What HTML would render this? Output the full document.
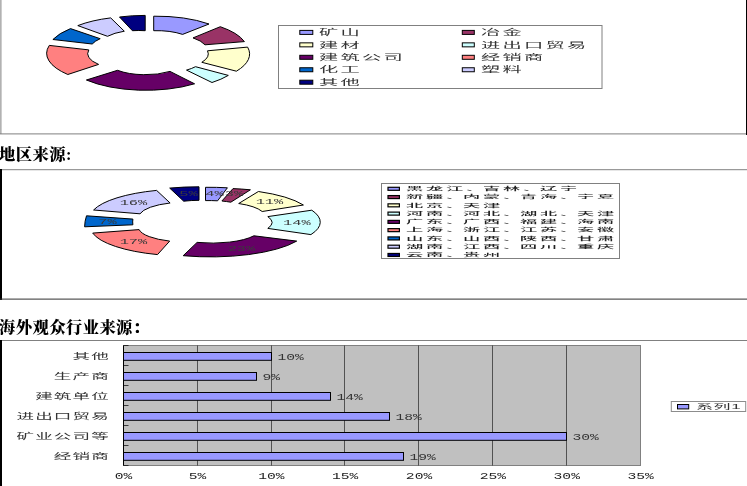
<!DOCTYPE html>
<html><head><meta charset="utf-8"><title>chart</title>
<style>html,body{margin:0;padding:0;background:#fff;overflow:hidden}svg{display:block}</style></head>
<body><svg width="747" height="486" viewBox="0 0 747 486">
<rect width="747" height="486" fill="#fff"/>
<rect x="0.4" y="0" width="1" height="134" fill="#808080"/>
<rect x="0" y="133.4" width="747" height="1" fill="#808080"/>
<rect x="746" y="0" width="1" height="135" fill="#000"/>
<rect x="0" y="169.2" width="747" height="1" fill="#808080"/>
<rect x="0" y="169" width="2" height="131" fill="#000"/>
<rect x="0" y="298.6" width="747" height="1" fill="#303030"/>
<rect x="0" y="340" width="747" height="1" fill="#808080"/>
<rect x="0" y="340" width="2" height="146" fill="#000"/>
<path d="M153.7,16.2 A80,31.2 0 0 1 209,24 L182.6,34.4 A40.0,15.6 0 0 0 153.7,30.7 Z" fill="#9999FF" stroke="#000" stroke-width="1" stroke-linejoin="round"/>
<path d="M220.3,26.7 A80,31.2 0 0 1 244.4,41.6 L205,44.8 A40.0,15.6 0 0 0 193,37.9 Z" fill="#993366" stroke="#000" stroke-width="1" stroke-linejoin="round"/>
<path d="M247.6,47.1 A80,31.2 0 0 1 236.4,71.2 L201.8,62.3 A40.0,15.6 0 0 0 207.5,50.8 Z" fill="#FFFFCC" stroke="#000" stroke-width="1" stroke-linejoin="round"/>
<path d="M228.3,75.4 A80,31.2 0 0 1 212,82.5 L186.5,70.1 A40.0,15.6 0 0 0 195.5,66.7 Z" fill="#CCFFFF" stroke="#000" stroke-width="1" stroke-linejoin="round"/>
<path d="M194.6,83.8 A80,31.2 0 0 1 86.4,80 L117.5,70.3 A40.0,15.6 0 0 0 170,71.4 Z" fill="#660066" stroke="#000" stroke-width="1" stroke-linejoin="round"/>
<path d="M67.8,74.5 A80,31.2 0 0 1 49.3,45.4 L88.8,49.9 A40.0,15.6 0 0 0 98.6,64.4 Z" fill="#FF8080" stroke="#000" stroke-width="1" stroke-linejoin="round"/>
<path d="M52.9,39.5 A80,31.2 0 0 1 70.5,28.6 L100.2,38.7 A40.0,15.6 0 0 0 92.2,44 Z" fill="#0066CC" stroke="#000" stroke-width="1" stroke-linejoin="round"/>
<path d="M77.8,25.6 A80,31.2 0 0 1 110.7,17.9 L124.3,31.2 A40.0,15.6 0 0 0 107.5,36.3 Z" fill="#CCCCFF" stroke="#000" stroke-width="1" stroke-linejoin="round"/>
<path d="M119.5,17 A80,31.2 0 0 1 145.2,15.4 L145.2,30.7 A40.0,15.6 0 0 0 132.4,30.7 Z" fill="#000080" stroke="#000" stroke-width="1" stroke-linejoin="round"/>
<rect x="278.5" y="25.5" width="323.5" height="63" fill="#fff" stroke="#808080" stroke-width="1"/>
<rect x="299.8" y="30.4" width="13" height="4" fill="#9999FF" stroke="#000" stroke-width="1"/>
<text transform="translate(318.9,35.1) scale(2.5,1)" font-size="7.7" letter-spacing="0.9" text-anchor="start" fill="#333" font-family='"Liberation Sans","Noto Sans CJK SC",sans-serif' font-weight="400">矿山</text>
<rect x="299.8" y="42.849999999999994" width="13" height="4" fill="#FFFFCC" stroke="#000" stroke-width="1"/>
<text transform="translate(318.9,47.55) scale(2.5,1)" font-size="7.7" letter-spacing="0.9" text-anchor="start" fill="#333" font-family='"Liberation Sans","Noto Sans CJK SC",sans-serif' font-weight="400">建材</text>
<rect x="299.8" y="55.3" width="13" height="4" fill="#660066" stroke="#000" stroke-width="1"/>
<text transform="translate(318.9,60.0) scale(2.5,1)" font-size="7.7" letter-spacing="0.9" text-anchor="start" fill="#333" font-family='"Liberation Sans","Noto Sans CJK SC",sans-serif' font-weight="400">建筑公司</text>
<rect x="299.8" y="67.75" width="13" height="4" fill="#0066CC" stroke="#000" stroke-width="1"/>
<text transform="translate(318.9,72.45) scale(2.5,1)" font-size="7.7" letter-spacing="0.9" text-anchor="start" fill="#333" font-family='"Liberation Sans","Noto Sans CJK SC",sans-serif' font-weight="400">化工</text>
<rect x="299.8" y="80.19999999999999" width="13" height="4" fill="#000080" stroke="#000" stroke-width="1"/>
<text transform="translate(318.9,84.89999999999999) scale(2.5,1)" font-size="7.7" letter-spacing="0.9" text-anchor="start" fill="#333" font-family='"Liberation Sans","Noto Sans CJK SC",sans-serif' font-weight="400">其他</text>
<rect x="462.3" y="30.4" width="12" height="4" fill="#993366" stroke="#000" stroke-width="1"/>
<text transform="translate(481,35.1) scale(2.5,1)" font-size="7.7" letter-spacing="0.9" text-anchor="start" fill="#333" font-family='"Liberation Sans","Noto Sans CJK SC",sans-serif' font-weight="400">冶金</text>
<rect x="462.3" y="42.849999999999994" width="12" height="4" fill="#CCFFFF" stroke="#000" stroke-width="1"/>
<text transform="translate(481,47.55) scale(2.5,1)" font-size="7.7" letter-spacing="0.9" text-anchor="start" fill="#333" font-family='"Liberation Sans","Noto Sans CJK SC",sans-serif' font-weight="400">进出口贸易</text>
<rect x="462.3" y="55.3" width="12" height="4" fill="#FF8080" stroke="#000" stroke-width="1"/>
<text transform="translate(481,60.0) scale(2.5,1)" font-size="7.7" letter-spacing="0.9" text-anchor="start" fill="#333" font-family='"Liberation Sans","Noto Sans CJK SC",sans-serif' font-weight="400">经销商</text>
<rect x="462.3" y="67.75" width="12" height="4" fill="#CCCCFF" stroke="#000" stroke-width="1"/>
<text transform="translate(481,72.45) scale(2.5,1)" font-size="7.7" letter-spacing="0.9" text-anchor="start" fill="#333" font-family='"Liberation Sans","Noto Sans CJK SC",sans-serif' font-weight="400">塑料</text>
<path d="M205.5,187.3 A96.7,29.1 0 0 1 227.4,187.8 L217.6,200.8 A48.35,14.55 0 0 0 205.5,200.6 Z" fill="#9999FF" stroke="#000" stroke-width="1" stroke-linejoin="round"/>
<path d="M233,188.6 A96.7,29.1 0 0 1 250.4,189.8 L230.8,202.2 A48.35,14.55 0 0 0 221.9,201 Z" fill="#993366" stroke="#000" stroke-width="1" stroke-linejoin="round"/>
<path d="M258.4,191.5 A96.7,29.1 0 0 1 303.4,205 L262.2,211.5 A48.35,14.55 0 0 0 238.7,203.5 Z" fill="#FFFFCC" stroke="#000" stroke-width="1" stroke-linejoin="round"/>
<path d="M311.8,210.2 A96.7,29.1 0 0 1 310.9,234.6 L267.8,228.4 A48.35,14.55 0 0 0 267.8,216.6 Z" fill="#CCFFFF" stroke="#000" stroke-width="1" stroke-linejoin="round"/>
<path d="M296.7,241.1 A96.7,29.1 0 0 1 183.2,255.7 L197.1,242.4 A48.35,14.55 0 0 0 253.9,235.8 Z" fill="#660066" stroke="#000" stroke-width="1" stroke-linejoin="round"/>
<path d="M157.5,254.6 A96.7,29.1 0 0 1 92.7,233.1 L139.1,229.6 A48.35,14.55 0 0 0 169.7,241.1 Z" fill="#FF8080" stroke="#000" stroke-width="1" stroke-linejoin="round"/>
<path d="M84.6,226.8 A386.8,116.4 0 0 1 86.5,215.8 L132.9,219.1 A193.4,58.2 0 0 0 132.9,224.8 Z" fill="#0066CC" stroke="#000" stroke-width="1" stroke-linejoin="round"/>
<path d="M93.6,210 A96.7,29.1 0 0 1 156.6,190.4 L170.1,203 A48.35,14.55 0 0 0 140,213.8 Z" fill="#CCCCFF" stroke="#000" stroke-width="1" stroke-linejoin="round"/>
<path d="M169.7,188.1 A96.7,29.1 0 0 1 199,186.8 L199,200.3 A48.35,14.55 0 0 0 183.7,201.2 Z" fill="#000080" stroke="#000" stroke-width="1" stroke-linejoin="round"/>
<text transform="translate(133.5,204.9) scale(2.45,1)" font-size="6.3" letter-spacing="0" text-anchor="middle" fill="#3a3a3a" font-family='"Liberation Mono","Noto Sans CJK SC",monospace' font-weight="normal">16%</text>
<text transform="translate(107.6,224.0) scale(2.45,1)" font-size="6.3" letter-spacing="0" text-anchor="middle" fill="#3a3a3a" font-family='"Liberation Mono","Noto Sans CJK SC",monospace' font-weight="normal">7%</text>
<text transform="translate(133.5,243.6) scale(2.45,1)" font-size="6.3" letter-spacing="0" text-anchor="middle" fill="#3a3a3a" font-family='"Liberation Mono","Noto Sans CJK SC",monospace' font-weight="normal">17%</text>
<text transform="translate(241.5,250.79999999999998) scale(2.45,1)" font-size="6.3" letter-spacing="0" text-anchor="middle" fill="#3a3a3a" font-family='"Liberation Mono","Noto Sans CJK SC",monospace' font-weight="normal">23%</text>
<text transform="translate(296.8,224.9) scale(2.45,1)" font-size="6.3" letter-spacing="0" text-anchor="middle" fill="#3a3a3a" font-family='"Liberation Mono","Noto Sans CJK SC",monospace' font-weight="normal">14%</text>
<text transform="translate(269.5,204.29999999999998) scale(2.45,1)" font-size="6.3" letter-spacing="0" text-anchor="middle" fill="#3a3a3a" font-family='"Liberation Mono","Noto Sans CJK SC",monospace' font-weight="normal">11%</text>
<text transform="translate(214.4,195.79999999999998) scale(2.45,1)" font-size="6.3" letter-spacing="0" text-anchor="middle" fill="#3a3a3a" font-family='"Liberation Mono","Noto Sans CJK SC",monospace' font-weight="normal">4%</text>
<text transform="translate(234,196.0) scale(2.45,1)" font-size="6.3" letter-spacing="0" text-anchor="middle" fill="#3a3a3a" font-family='"Liberation Mono","Noto Sans CJK SC",monospace' font-weight="normal">3%</text>
<text transform="translate(188.5,195.5) scale(2.45,1)" font-size="6.3" letter-spacing="0" text-anchor="middle" fill="#3a3a3a" font-family='"Liberation Mono","Noto Sans CJK SC",monospace' font-weight="normal">5%</text>
<rect x="381.5" y="183.5" width="238" height="75" fill="#fff" stroke="#808080" stroke-width="1"/>
<clipPath id="c2"><rect x="382" y="184" width="237" height="74"/></clipPath><g clip-path="url(#c2)">
<rect x="388" y="187.3" width="11.4" height="3" fill="#9999FF" stroke="#000" stroke-width="1.2"/>
<text transform="translate(406,190.10000000000002) scale(3.75,1)" font-size="4.6" letter-spacing="0.73" text-anchor="start" fill="#222" font-family='"Liberation Sans","Noto Sans CJK SC",sans-serif' font-weight="500">黑龙江、</text>
<text transform="translate(483,190.10000000000002) scale(3.75,1)" font-size="4.6" letter-spacing="0.73" text-anchor="start" fill="#222" font-family='"Liberation Sans","Noto Sans CJK SC",sans-serif' font-weight="500">吉林、</text>
<text transform="translate(540,190.10000000000002) scale(3.75,1)" font-size="4.6" letter-spacing="0.73" text-anchor="start" fill="#222" font-family='"Liberation Sans","Noto Sans CJK SC",sans-serif' font-weight="500">辽宁</text>
<rect x="388" y="195.57000000000002" width="11.4" height="3" fill="#993366" stroke="#000" stroke-width="1.2"/>
<text transform="translate(406,198.37000000000003) scale(3.75,1)" font-size="4.6" letter-spacing="0.73" text-anchor="start" fill="#222" font-family='"Liberation Sans","Noto Sans CJK SC",sans-serif' font-weight="500">新疆、</text>
<text transform="translate(463,198.37000000000003) scale(3.75,1)" font-size="4.6" letter-spacing="0.73" text-anchor="start" fill="#222" font-family='"Liberation Sans","Noto Sans CJK SC",sans-serif' font-weight="500">内蒙、</text>
<text transform="translate(520,198.37000000000003) scale(3.75,1)" font-size="4.6" letter-spacing="0.73" text-anchor="start" fill="#222" font-family='"Liberation Sans","Noto Sans CJK SC",sans-serif' font-weight="500">青海、</text>
<text transform="translate(577,198.37000000000003) scale(3.75,1)" font-size="4.6" letter-spacing="0.73" text-anchor="start" fill="#222" font-family='"Liberation Sans","Noto Sans CJK SC",sans-serif' font-weight="500">宁夏</text>
<rect x="388" y="203.84" width="11.4" height="3" fill="#FFFFCC" stroke="#000" stroke-width="1.2"/>
<text transform="translate(406,206.64000000000001) scale(3.75,1)" font-size="4.6" letter-spacing="0.73" text-anchor="start" fill="#222" font-family='"Liberation Sans","Noto Sans CJK SC",sans-serif' font-weight="500">北京、</text>
<text transform="translate(463,206.64000000000001) scale(3.75,1)" font-size="4.6" letter-spacing="0.73" text-anchor="start" fill="#222" font-family='"Liberation Sans","Noto Sans CJK SC",sans-serif' font-weight="500">天津</text>
<rect x="388" y="212.11" width="11.4" height="3" fill="#CCFFFF" stroke="#000" stroke-width="1.2"/>
<text transform="translate(406,214.91000000000003) scale(3.75,1)" font-size="4.6" letter-spacing="0.73" text-anchor="start" fill="#222" font-family='"Liberation Sans","Noto Sans CJK SC",sans-serif' font-weight="500">河南、</text>
<text transform="translate(463,214.91000000000003) scale(3.75,1)" font-size="4.6" letter-spacing="0.73" text-anchor="start" fill="#222" font-family='"Liberation Sans","Noto Sans CJK SC",sans-serif' font-weight="500">河北、</text>
<text transform="translate(520,214.91000000000003) scale(3.75,1)" font-size="4.6" letter-spacing="0.73" text-anchor="start" fill="#222" font-family='"Liberation Sans","Noto Sans CJK SC",sans-serif' font-weight="500">湖北、</text>
<text transform="translate(577,214.91000000000003) scale(3.75,1)" font-size="4.6" letter-spacing="0.73" text-anchor="start" fill="#222" font-family='"Liberation Sans","Noto Sans CJK SC",sans-serif' font-weight="500">天津</text>
<rect x="388" y="220.38" width="11.4" height="3" fill="#660066" stroke="#000" stroke-width="1.2"/>
<text transform="translate(406,223.18) scale(3.75,1)" font-size="4.6" letter-spacing="0.73" text-anchor="start" fill="#222" font-family='"Liberation Sans","Noto Sans CJK SC",sans-serif' font-weight="500">广东、</text>
<text transform="translate(463,223.18) scale(3.75,1)" font-size="4.6" letter-spacing="0.73" text-anchor="start" fill="#222" font-family='"Liberation Sans","Noto Sans CJK SC",sans-serif' font-weight="500">广西、</text>
<text transform="translate(520,223.18) scale(3.75,1)" font-size="4.6" letter-spacing="0.73" text-anchor="start" fill="#222" font-family='"Liberation Sans","Noto Sans CJK SC",sans-serif' font-weight="500">福建、</text>
<text transform="translate(577,223.18) scale(3.75,1)" font-size="4.6" letter-spacing="0.73" text-anchor="start" fill="#222" font-family='"Liberation Sans","Noto Sans CJK SC",sans-serif' font-weight="500">海南</text>
<rect x="388" y="228.65" width="11.4" height="3" fill="#FF8080" stroke="#000" stroke-width="1.2"/>
<text transform="translate(406,231.45000000000002) scale(3.75,1)" font-size="4.6" letter-spacing="0.73" text-anchor="start" fill="#222" font-family='"Liberation Sans","Noto Sans CJK SC",sans-serif' font-weight="500">上海、</text>
<text transform="translate(463,231.45000000000002) scale(3.75,1)" font-size="4.6" letter-spacing="0.73" text-anchor="start" fill="#222" font-family='"Liberation Sans","Noto Sans CJK SC",sans-serif' font-weight="500">浙江、</text>
<text transform="translate(520,231.45000000000002) scale(3.75,1)" font-size="4.6" letter-spacing="0.73" text-anchor="start" fill="#222" font-family='"Liberation Sans","Noto Sans CJK SC",sans-serif' font-weight="500">江苏、</text>
<text transform="translate(577,231.45000000000002) scale(3.75,1)" font-size="4.6" letter-spacing="0.73" text-anchor="start" fill="#222" font-family='"Liberation Sans","Noto Sans CJK SC",sans-serif' font-weight="500">安徽</text>
<rect x="388" y="236.92000000000002" width="11.4" height="3" fill="#0066CC" stroke="#000" stroke-width="1.2"/>
<text transform="translate(406,239.72000000000003) scale(3.75,1)" font-size="4.6" letter-spacing="0.73" text-anchor="start" fill="#222" font-family='"Liberation Sans","Noto Sans CJK SC",sans-serif' font-weight="500">山东、</text>
<text transform="translate(463,239.72000000000003) scale(3.75,1)" font-size="4.6" letter-spacing="0.73" text-anchor="start" fill="#222" font-family='"Liberation Sans","Noto Sans CJK SC",sans-serif' font-weight="500">山西、</text>
<text transform="translate(520,239.72000000000003) scale(3.75,1)" font-size="4.6" letter-spacing="0.73" text-anchor="start" fill="#222" font-family='"Liberation Sans","Noto Sans CJK SC",sans-serif' font-weight="500">陕西、</text>
<text transform="translate(577,239.72000000000003) scale(3.75,1)" font-size="4.6" letter-spacing="0.73" text-anchor="start" fill="#222" font-family='"Liberation Sans","Noto Sans CJK SC",sans-serif' font-weight="500">甘肃</text>
<rect x="388" y="245.19" width="11.4" height="3" fill="#CCCCFF" stroke="#000" stroke-width="1.2"/>
<text transform="translate(406,247.99) scale(3.75,1)" font-size="4.6" letter-spacing="0.73" text-anchor="start" fill="#222" font-family='"Liberation Sans","Noto Sans CJK SC",sans-serif' font-weight="500">湖南、</text>
<text transform="translate(463,247.99) scale(3.75,1)" font-size="4.6" letter-spacing="0.73" text-anchor="start" fill="#222" font-family='"Liberation Sans","Noto Sans CJK SC",sans-serif' font-weight="500">江西、</text>
<text transform="translate(520,247.99) scale(3.75,1)" font-size="4.6" letter-spacing="0.73" text-anchor="start" fill="#222" font-family='"Liberation Sans","Noto Sans CJK SC",sans-serif' font-weight="500">四川、</text>
<text transform="translate(577,247.99) scale(3.75,1)" font-size="4.6" letter-spacing="0.73" text-anchor="start" fill="#222" font-family='"Liberation Sans","Noto Sans CJK SC",sans-serif' font-weight="500">重庆</text>
<rect x="388" y="253.46" width="11.4" height="3" fill="#000080" stroke="#000" stroke-width="1.2"/>
<text transform="translate(406,256.26) scale(3.75,1)" font-size="4.6" letter-spacing="0.73" text-anchor="start" fill="#222" font-family='"Liberation Sans","Noto Sans CJK SC",sans-serif' font-weight="500">云南、</text>
<text transform="translate(463,256.26) scale(3.75,1)" font-size="4.6" letter-spacing="0.73" text-anchor="start" fill="#222" font-family='"Liberation Sans","Noto Sans CJK SC",sans-serif' font-weight="500">贵州</text>
</g>
<rect x="123.5" y="345.5" width="517.0" height="120.0" fill="#C0C0C0" stroke="#808080" stroke-width="1"/>
<line x1="197.5" y1="345.5" x2="197.5" y2="465.5" stroke="#222" stroke-width="0.7"/>
<line x1="271.5" y1="345.5" x2="271.5" y2="465.5" stroke="#222" stroke-width="0.7"/>
<line x1="344.5" y1="345.5" x2="344.5" y2="465.5" stroke="#222" stroke-width="0.7"/>
<line x1="418.5" y1="345.5" x2="418.5" y2="465.5" stroke="#222" stroke-width="0.7"/>
<line x1="492.5" y1="345.5" x2="492.5" y2="465.5" stroke="#222" stroke-width="0.7"/>
<line x1="566.5" y1="345.5" x2="566.5" y2="465.5" stroke="#222" stroke-width="0.7"/>
<line x1="123.5" y1="345.5" x2="123.5" y2="465.5" stroke="#000" stroke-width="1"/>
<line x1="123.5" y1="345.5" x2="128.5" y2="345.5" stroke="#000" stroke-width="0.7"/>
<line x1="123.5" y1="365.5" x2="128.5" y2="365.5" stroke="#000" stroke-width="0.7"/>
<line x1="123.5" y1="385.5" x2="128.5" y2="385.5" stroke="#000" stroke-width="0.7"/>
<line x1="123.5" y1="405.5" x2="128.5" y2="405.5" stroke="#000" stroke-width="0.7"/>
<line x1="123.5" y1="425.5" x2="128.5" y2="425.5" stroke="#000" stroke-width="0.7"/>
<line x1="123.5" y1="445.5" x2="128.5" y2="445.5" stroke="#000" stroke-width="0.7"/>
<line x1="123.5" y1="465.5" x2="128.5" y2="465.5" stroke="#000" stroke-width="0.7"/>
<rect x="123.5" y="352.5" width="148.0" height="7.8" fill="#9999FF" stroke="#000" stroke-width="1"/>
<text transform="translate(109.8,359.3) scale(2.14,1)" font-size="8.2" letter-spacing="0.52" text-anchor="end" fill="#333" font-family='"Liberation Sans","Noto Sans CJK SC",sans-serif' font-weight="400">其他</text>
<text transform="translate(277.5,359.7) scale(1.63,1)" font-size="9" letter-spacing="0" text-anchor="start" fill="#333" font-family='"Liberation Mono","Noto Sans CJK SC",monospace' font-weight="normal">10%</text>
<rect x="123.5" y="372.5" width="133.0" height="7.8" fill="#9999FF" stroke="#000" stroke-width="1"/>
<text transform="translate(109.8,379.3) scale(2.14,1)" font-size="8.2" letter-spacing="0.52" text-anchor="end" fill="#333" font-family='"Liberation Sans","Noto Sans CJK SC",sans-serif' font-weight="400">生产商</text>
<text transform="translate(262.5,379.7) scale(1.63,1)" font-size="9" letter-spacing="0" text-anchor="start" fill="#333" font-family='"Liberation Mono","Noto Sans CJK SC",monospace' font-weight="normal">9%</text>
<rect x="123.5" y="392.5" width="207.0" height="7.8" fill="#9999FF" stroke="#000" stroke-width="1"/>
<text transform="translate(109.8,399.3) scale(2.14,1)" font-size="8.2" letter-spacing="0.52" text-anchor="end" fill="#333" font-family='"Liberation Sans","Noto Sans CJK SC",sans-serif' font-weight="400">建筑单位</text>
<text transform="translate(336.5,399.7) scale(1.63,1)" font-size="9" letter-spacing="0" text-anchor="start" fill="#333" font-family='"Liberation Mono","Noto Sans CJK SC",monospace' font-weight="normal">14%</text>
<rect x="123.5" y="412.5" width="266.0" height="7.8" fill="#9999FF" stroke="#000" stroke-width="1"/>
<text transform="translate(109.8,419.3) scale(2.14,1)" font-size="8.2" letter-spacing="0.52" text-anchor="end" fill="#333" font-family='"Liberation Sans","Noto Sans CJK SC",sans-serif' font-weight="400">进出口贸易</text>
<text transform="translate(395.5,419.7) scale(1.63,1)" font-size="9" letter-spacing="0" text-anchor="start" fill="#333" font-family='"Liberation Mono","Noto Sans CJK SC",monospace' font-weight="normal">18%</text>
<rect x="123.5" y="432.5" width="443.0" height="7.8" fill="#9999FF" stroke="#000" stroke-width="1"/>
<text transform="translate(109.8,439.3) scale(2.14,1)" font-size="8.2" letter-spacing="0.52" text-anchor="end" fill="#333" font-family='"Liberation Sans","Noto Sans CJK SC",sans-serif' font-weight="400">矿业公司等</text>
<text transform="translate(572.5,439.7) scale(1.63,1)" font-size="9" letter-spacing="0" text-anchor="start" fill="#333" font-family='"Liberation Mono","Noto Sans CJK SC",monospace' font-weight="normal">30%</text>
<rect x="123.5" y="452.5" width="280.0" height="7.8" fill="#9999FF" stroke="#000" stroke-width="1"/>
<text transform="translate(109.8,459.3) scale(2.14,1)" font-size="8.2" letter-spacing="0.52" text-anchor="end" fill="#333" font-family='"Liberation Sans","Noto Sans CJK SC",sans-serif' font-weight="400">经销商</text>
<text transform="translate(409.5,459.7) scale(1.63,1)" font-size="9" letter-spacing="0" text-anchor="start" fill="#333" font-family='"Liberation Mono","Noto Sans CJK SC",monospace' font-weight="normal">19%</text>
<text transform="translate(123.6,478.8) scale(1.63,1)" font-size="9" letter-spacing="0" text-anchor="middle" fill="#222" font-family='"Liberation Mono","Noto Sans CJK SC",monospace' font-weight="normal">0%</text>
<text transform="translate(197.46,478.8) scale(1.63,1)" font-size="9" letter-spacing="0" text-anchor="middle" fill="#222" font-family='"Liberation Mono","Noto Sans CJK SC",monospace' font-weight="normal">5%</text>
<text transform="translate(271.32,478.8) scale(1.63,1)" font-size="9" letter-spacing="0" text-anchor="middle" fill="#222" font-family='"Liberation Mono","Noto Sans CJK SC",monospace' font-weight="normal">10%</text>
<text transform="translate(345.18,478.8) scale(1.63,1)" font-size="9" letter-spacing="0" text-anchor="middle" fill="#222" font-family='"Liberation Mono","Noto Sans CJK SC",monospace' font-weight="normal">15%</text>
<text transform="translate(419.04,478.8) scale(1.63,1)" font-size="9" letter-spacing="0" text-anchor="middle" fill="#222" font-family='"Liberation Mono","Noto Sans CJK SC",monospace' font-weight="normal">20%</text>
<text transform="translate(492.90000000000003,478.8) scale(1.63,1)" font-size="9" letter-spacing="0" text-anchor="middle" fill="#222" font-family='"Liberation Mono","Noto Sans CJK SC",monospace' font-weight="normal">25%</text>
<text transform="translate(566.7599999999999,478.8) scale(1.63,1)" font-size="9" letter-spacing="0" text-anchor="middle" fill="#222" font-family='"Liberation Mono","Noto Sans CJK SC",monospace' font-weight="normal">30%</text>
<text transform="translate(640.6199999999999,478.8) scale(1.63,1)" font-size="9" letter-spacing="0" text-anchor="middle" fill="#222" font-family='"Liberation Mono","Noto Sans CJK SC",monospace' font-weight="normal">35%</text>
<rect x="671.3" y="401.5" width="74.4" height="10" fill="#fff" stroke="#8c8c8c" stroke-width="1"/>
<rect x="677.5" y="404.5" width="11.2" height="4.4" fill="#9999FF" stroke="#000" stroke-width="1"/>
<text transform="translate(696,409.3) scale(2.3,1)" font-size="7.4" letter-spacing="0.25" text-anchor="start" fill="#333" font-family='"Liberation Sans","Noto Sans CJK SC",sans-serif' font-weight="400">系列1</text>
<text transform="translate(-0.9,159.9) scale(1,1)" font-size="16.3" letter-spacing="0.45" text-anchor="start" fill="#000" font-family='"Liberation Serif","Noto Serif CJK SC",serif' font-weight="900">地区来源:</text>
<text transform="translate(-1,332.9) scale(1,1)" font-size="16.3" letter-spacing="0.45" text-anchor="start" fill="#000" font-family='"Liberation Serif","Noto Serif CJK SC",serif' font-weight="900">海外观众行业来源：</text>
</svg></body></html>
